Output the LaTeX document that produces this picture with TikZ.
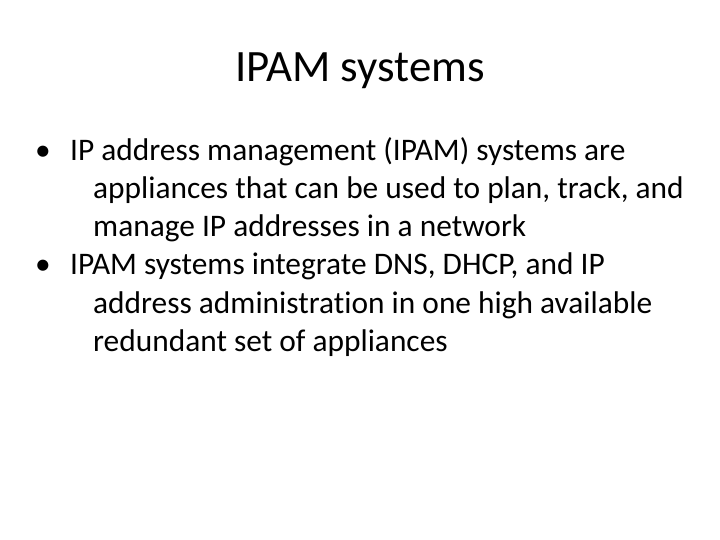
\documentclass[tikz,border=0pt]{standalone}
\usepackage{fontspec}
\setmainfont[Ligatures=CommonOff]{Carlito}
\begin{document}
\begin{tikzpicture}[x=1bp,y=-1bp,
  ln/.style={anchor=base west,inner sep=0pt,font=\fontsize{31.5}{38}\selectfont}]
\useasboundingbox (0,0) rectangle (720,540);
\node[anchor=base,inner sep=0pt,font=\fontsize{45}{50}\selectfont] (title) at (360,82) {IPAM systems};
\node[ln] (b1) at (35,161) {•};
\node[ln] (l1) at (70,161) {IP address management (IPAM) systems are};
\node[ln] (l2) at (93,199) {appliances that can be used to plan, track, and};
\node[ln] (l3) at (93,237) {manage IP addresses in a network};
\node[ln] (b2) at (35,275) {•};
\node[ln] (l4) at (70,275) {IPAM systems integrate DNS, DHCP, and IP};
\node[ln] (l5) at (93,313) {address administration in one high available};
\node[ln] (l6) at (93,351) {redundant set of appliances};
\end{tikzpicture}
\end{document}
